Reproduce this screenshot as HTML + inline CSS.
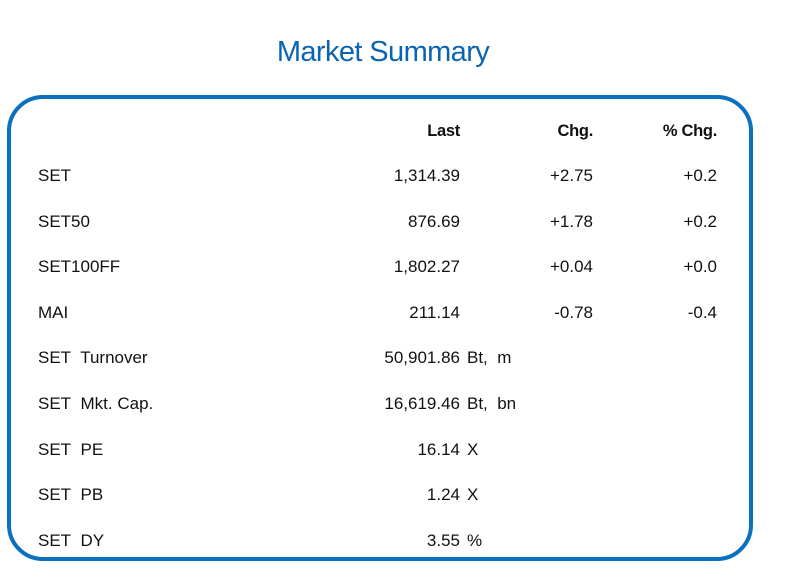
<!DOCTYPE html>
<html><head><meta charset="utf-8"><style>
body{margin:0;width:786px;height:582px;background:#fff;position:relative;font-family:"Liberation Sans",sans-serif;color:#111;overflow:hidden}
.t{position:absolute;left:0;width:766px;text-align:center;top:36px;font-size:29px;color:#0a64b0;letter-spacing:-0.6px}
.box{position:absolute;left:7px;top:95px;width:738px;height:458px;border:4px solid #0a70c0;border-radius:36px}
.s{position:absolute;font-size:17px;line-height:20px;white-space:nowrap}
.r{text-align:right}
.h{font-weight:bold;font-size:16.5px;letter-spacing:-0.3px}
</style></head><body>
<div class="t">Market Summary</div>
<div class="box"></div>
<div class="s r h" style="right:326px;top:121px">Last</div>
<div class="s r h" style="right:193px;top:121px">Chg.</div>
<div class="s r h" style="right:69px;top:121px">% Chg.</div>

<div class="s" style="left:38px;top:166px">SET</div>
<div class="s r" style="right:326px;top:166px">1,314.39</div>
<div class="s r" style="right:193px;top:166px">+2.75</div>
<div class="s r" style="right:69px;top:166px">+0.2</div>

<div class="s" style="left:38px;top:212px">SET50</div>
<div class="s r" style="right:326px;top:212px">876.69</div>
<div class="s r" style="right:193px;top:212px">+1.78</div>
<div class="s r" style="right:69px;top:212px">+0.2</div>

<div class="s" style="left:38px;top:257px">SET100FF</div>
<div class="s r" style="right:326px;top:257px">1,802.27</div>
<div class="s r" style="right:193px;top:257px">+0.04</div>
<div class="s r" style="right:69px;top:257px">+0.0</div>

<div class="s" style="left:38px;top:303px">MAI</div>
<div class="s r" style="right:326px;top:303px">211.14</div>
<div class="s r" style="right:193px;top:303px">-0.78</div>
<div class="s r" style="right:69px;top:303px">-0.4</div>

<div class="s" style="left:38px;top:348px">SET&nbsp; Turnover</div>
<div class="s r" style="right:326px;top:348px">50,901.86</div>
<div class="s" style="left:467px;top:348px">Bt,&nbsp; m</div>

<div class="s" style="left:38px;top:394px">SET&nbsp; Mkt. Cap.</div>
<div class="s r" style="right:326px;top:394px">16,619.46</div>
<div class="s" style="left:467px;top:394px">Bt,&nbsp; bn</div>

<div class="s" style="left:38px;top:440px">SET&nbsp; PE</div>
<div class="s r" style="right:326px;top:440px">16.14</div>
<div class="s" style="left:467px;top:440px">X</div>

<div class="s" style="left:38px;top:485px">SET&nbsp; PB</div>
<div class="s r" style="right:326px;top:485px">1.24</div>
<div class="s" style="left:467px;top:485px">X</div>

<div class="s" style="left:38px;top:531px">SET&nbsp; DY</div>
<div class="s r" style="right:326px;top:531px">3.55</div>
<div class="s" style="left:467px;top:531px">%</div>
</body></html>
